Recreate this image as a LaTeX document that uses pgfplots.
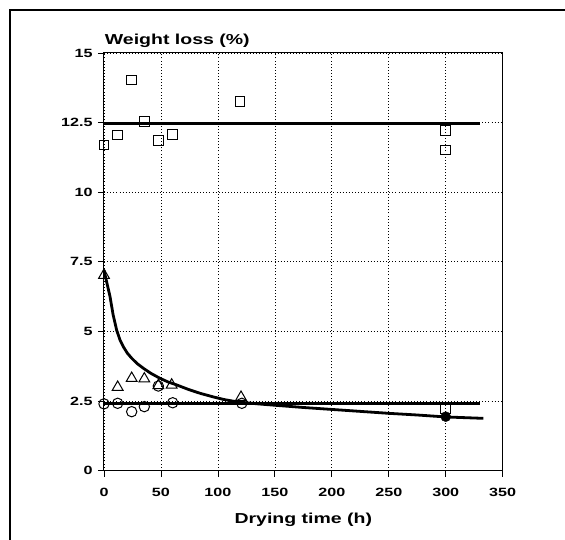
\documentclass[border=0pt]{standalone}
\usepackage{fontspec}
\setmainfont{Liberation Sans}[FakeStretch=1.35]
\usepackage{pgfplots}
\pgfplotsset{compat=1.18}

\begin{document}
\begin{tikzpicture}[x=1bp,y=1bp]
\useasboundingbox (-104,-69.3) rectangle (461,470.7);
% frame of the scanned figure (cut off at right and bottom)
\draw[line width=1.6bp] (-94,-80) -- (-94,460.7) -- (470,460.7);

\begin{axis}[
    scale only axis,
    width=398.7bp, height=417.7bp,
    xmin=0, xmax=350, ymin=0, ymax=15,
    xtick={0,50,...,350},
    ytick={0,2.5,5,7.5,10,12.5,15},
    xticklabels={0,50,100,150,200,250,300,350},
    yticklabels={0,2.5,5,7.5,10,12.5,15},
    xtick pos=left, ytick pos=left,
    tick align=outside,
    major tick length=6bp,
    tick style={black, line width=0.8bp},
    axis line style={line width=1bp},
    grid=major,
    major grid style={black, line width=0.7bp, dash pattern=on 0.9bp off 2.2bp},
    ticklabel style={font=\fontsize{12}{13}\selectfont\bfseries},
    xticklabel style={yshift=-8bp},
    yticklabel style={xshift=-2bp},
    /pgf/number format/assume math mode=true,
    clip=false,
]

% fitted lines
\addplot[black, line width=2.6bp] coordinates {(0,12.46) (330,12.46)};
\addplot[black, line width=2.6bp] coordinates {(0,2.42) (330,2.42)};
\addplot[black, line width=2.8bp, line join=round] coordinates {
    (0,7.2) (2.5,6.75) (5.3,6.25) (8,5.6) (11.1,5.05) (14,4.7) (17,4.45)
    (20.5,4.22) (24.3,4.04) (29,3.85) (34.5,3.68) (41,3.5) (49,3.32)
    (56,3.19) (63.8,3.08) (74,2.92) (84.3,2.78) (95,2.66) (104.8,2.56)
    (113,2.5) (122.3,2.45) (135,2.4) (150,2.35) (175,2.27) (200,2.2)
    (225,2.13) (250,2.06) (275,2.0) (300,1.93) (333,1.88)};

% squares
\addplot[only marks, mark=square, mark size=4.8bp, mark options={line width=1bp, fill=white}] coordinates {
    (0,11.7) (12,12.06) (24,14.03) (35.4,12.54) (47.7,11.85) (60,12.08)
    (119.4,13.25) (300,12.21) (300,11.52) (300,2.24)};

% triangles
\addplot[only marks, mark=triangle, mark size=6.2bp, mark options={line width=1bp}] coordinates {
    (0,7.02) (12,3.0) (24.3,3.32) (35.4,3.3) (47.7,3.06) (59.4,3.08) (120.3,2.64)};

% circles
\addplot[only marks, mark=o, mark size=5.2bp, mark options={line width=1bp}] coordinates {
    (0,2.4) (12,2.42) (24.3,2.12) (35.4,2.3) (47.7,3.04) (60.3,2.44) (121,2.42)};

% filled circle
\addplot[only marks, mark=*, mark size=5bp, black] coordinates {(300,1.94)};

\end{axis}

\node[anchor=base west, inner sep=0pt, font=\fontsize{14.5}{16}\selectfont\bfseries] at (0.7,425.7) {Weight loss (\%)};
\node[anchor=base, inner sep=0pt, font=\fontsize{14.5}{16}\selectfont\bfseries] at (199.3,-52.6) {Drying time (h)};
\end{tikzpicture}
\end{document}
